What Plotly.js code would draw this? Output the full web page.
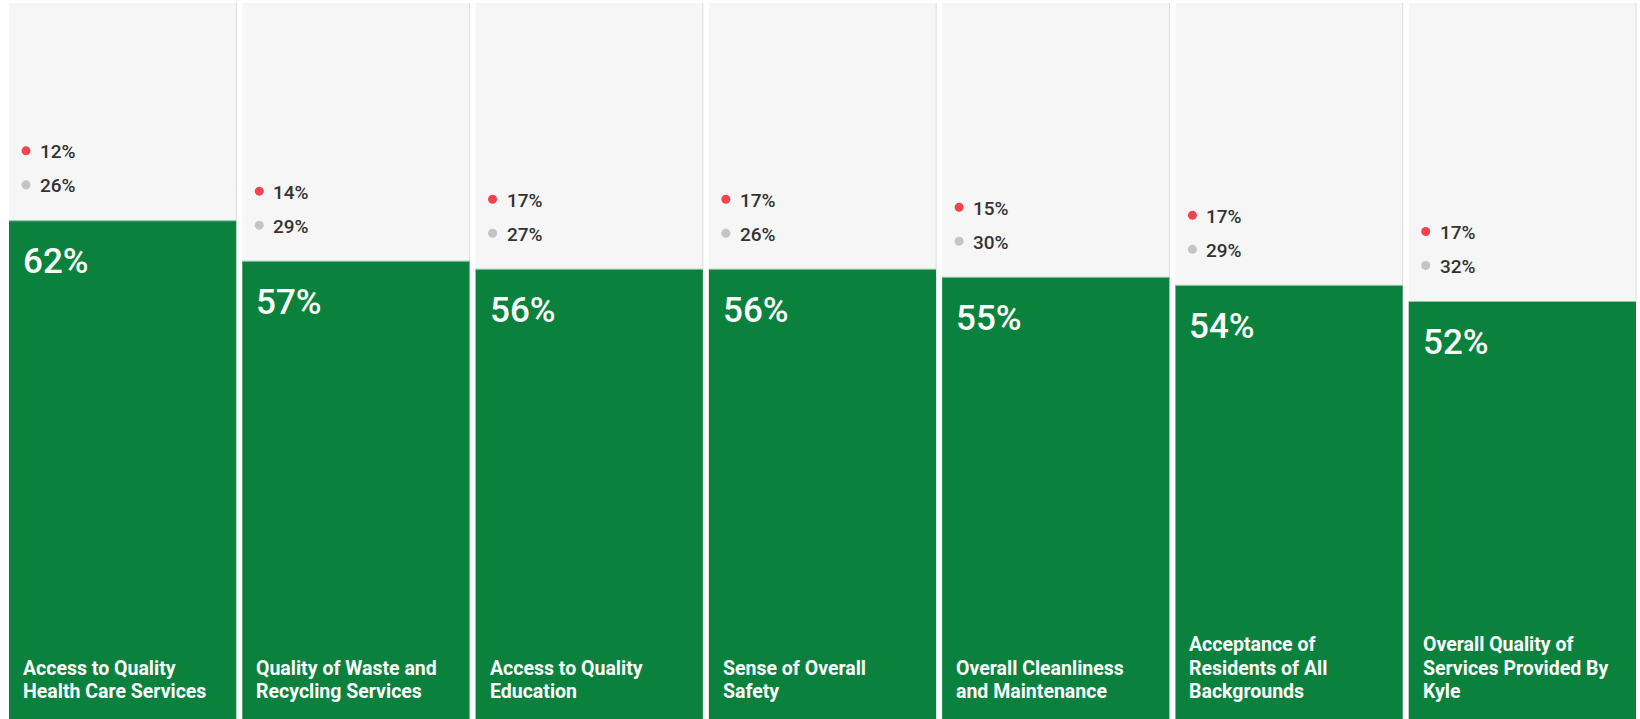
<!DOCTYPE html>
<html><head><meta charset="utf-8">
<script src="https://cdn.plot.ly/plotly-3.0.1.min.js"></script>
<style>html,body{margin:0;padding:0;overflow:hidden;background:#fff}#chart{width:1640px;height:721px}</style>
</head><body><div id="chart"></div><script>
const categories = [
  "Access to Quality<br>Health Care Services",
  "Quality of Waste and<br>Recycling Services",
  "Access to Quality<br>Education",
  "Sense of Overall<br>Safety",
  "Overall Cleanliness<br>and Maintenance",
  "Acceptance of<br>Residents of All<br>Backgrounds",
  "Overall Quality of<br>Services Provided By<br>Kyle"
];
const satisfied    = [62, 57, 56, 56, 55, 54, 52];
const dissatisfied = [12, 14, 17, 17, 15, 17, 17];
const neutral      = [26, 29, 27, 26, 30, 29, 32];
const panelMax = 89;

const W = 1640, H = 721, ml = 6, mr = 1, mt = 3, mb = 0;
const bargap = 0.0257;
const pxPerX = (W - ml - mr) / categories.length;
const pxPerY = (H - mt - mb) / panelMax;
const half = (1 - bargap) / 2;
const idx = categories.map((_, i) => i);
const leftX = idx.map(i => i - half);
const dotX = leftX.map(x => x + 17 / pxPerX);

const FONT = "Roboto, 'Noto Sans', Arial, sans-serif";
const GREEN = "#0a823d";

const traces = [
  {type: "bar", x: idx, y: categories.map(() => panelMax), marker: {color: "#f6f6f6"}, hoverinfo: "skip"},
  {type: "bar", x: idx, y: satisfied, marker: {color: GREEN}, hoverinfo: "skip"},
  {type: "scatter", mode: "markers", x: dotX, y: satisfied.map(v => v + 70 / pxPerY),
   marker: {size: 9, color: "#f2434f"}, hoverinfo: "skip"},
  {type: "scatter", mode: "markers", x: dotX, y: satisfied.map(v => v + 36 / pxPerY),
   marker: {size: 9, color: "#c4c4c4"}, hoverinfo: "skip"}
];

const annotations = [];
const shapes = [];
idx.forEach(i => {
  annotations.push({x: leftX[i], y: satisfied[i], xanchor: "left", yanchor: "middle", xshift: 12, yshift: -41,
    text: satisfied[i] + "%", showarrow: false, font: {family: FONT, size: 35, color: "#ffffff", weight: 500}});
  annotations.push({x: dotX[i], y: satisfied[i] + 70 / pxPerY, xanchor: "left", yanchor: "middle", xshift: 12, yshift: -1,
    text: dissatisfied[i] + "%", showarrow: false, font: {family: FONT, size: 19, color: "#333333", weight: 500}});
  annotations.push({x: dotX[i], y: satisfied[i] + 36 / pxPerY, xanchor: "left", yanchor: "middle", xshift: 12, yshift: -1,
    text: neutral[i] + "%", showarrow: false, font: {family: FONT, size: 19, color: "#333333", weight: 500}});
  const lines = categories[i].split("<br>");
  lines.forEach((ln, j) => {
    annotations.push({x: leftX[i], y: 0, xanchor: "left", yanchor: "bottom", xshift: 12,
      yshift: 16 + (lines.length - 1 - j) * 23.5, align: "left",
      text: ln, showarrow: false, font: {family: FONT, size: 19.5, color: "#ffffff", weight: 700}});
  });
  shapes.push({type: "line", xref: "x", yref: "y", x0: i + half, x1: i + half, y0: satisfied[i], y1: panelMax,
    line: {color: "#dcdcdc", width: 1}});
  shapes.push({type: "line", xref: "x", yref: "y", x0: i - half, x1: i + half, y0: satisfied[i], y1: satisfied[i],
    line: {color: "#8fc4a0", width: 1}});
});

const layout = {
  width: W, height: H,
  margin: {l: ml, r: mr, t: mt, b: mb, pad: 0},
  paper_bgcolor: "#ffffff", plot_bgcolor: "#ffffff",
  barmode: "overlay", bargap: bargap,
  showlegend: false,
  xaxis: {range: [-0.5, categories.length - 0.5], visible: false, fixedrange: true},
  yaxis: {range: [0, panelMax], visible: false, fixedrange: true},
  annotations: annotations,
  shapes: shapes
};
Plotly.newPlot("chart", traces, layout, {staticPlot: true, displayModeBar: false});
</script></body></html>
